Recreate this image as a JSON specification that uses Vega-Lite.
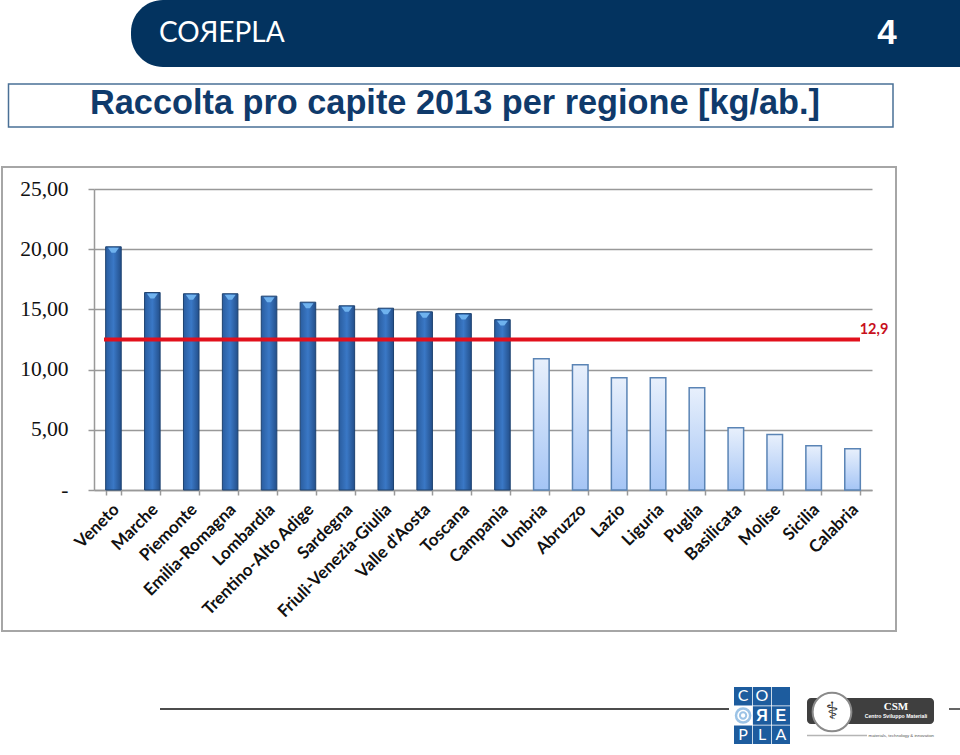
{"$schema":"https://vega.github.io/schema/vega-lite/v6.json","width":778,"height":301,"autosize":{"type":"none"},"padding":{"left":94,"top":189,"right":88,"bottom":265},"background":"white","config":{"view":{"stroke":null}},
"datasets":{"regioni":[{"regione":"Veneto","kg":20.2},{"regione":"Marche","kg":16.4},{"regione":"Piemonte","kg":16.3},{"regione":"Emilia-Romagna","kg":16.3},{"regione":"Lombardia","kg":16.1},{"regione":"Trentino-Alto Adige","kg":15.6},{"regione":"Sardegna","kg":15.3},{"regione":"Friuli-Venezia-Giulia","kg":15.1},{"regione":"Valle d'Aosta","kg":14.8},{"regione":"Toscana","kg":14.65},{"regione":"Campania","kg":14.15},{"regione":"Umbria","kg":10.9},{"regione":"Abruzzo","kg":10.4},{"regione":"Lazio","kg":9.33},{"regione":"Liguria","kg":9.33},{"regione":"Puglia","kg":8.5},{"regione":"Basilicata","kg":5.17},{"regione":"Molise","kg":4.6},{"regione":"Sicilia","kg":3.68},{"regione":"Calabria","kg":3.43}]},
"data":{"name":"regioni"},
"layer":[
{"encoding":{"x":{"field":"regione","type":"nominal","sort":null,"scale":{"paddingInner":0.6,"paddingOuter":0.3},"axis":{"title":null,"labelAngle":-45,"labelAlign":"right","labelBaseline":"top","labelFont":"Lato","labelFontWeight":"bold","labelFontSize":17,"labelColor":"#111111","labelPadding":6,"labelOffset":-3,"labelOverlap":false,"labelLimit":300,"tickBand":"extent","tickColor":"#999999","tickWidth":1.5,"tickSize":5,"domainColor":"#999999","domainWidth":1.5}},
"y":{"field":"kg","type":"quantitative","scale":{"domain":[0,25],"nice":false},"axis":{"title":null,"values":[0,5,10,15,20,25],"labelExpr":"datum.value==0?'-':replace(format(datum.value,'.2f'),'.',',')","labelFont":"Liberation Serif","labelFontSize":21.5,"labelColor":"#111111","labelPadding":20,"tickColor":"#999999","tickWidth":1.5,"tickSize":6,"domainColor":"#999999","domainWidth":1.5,"grid":true,"gridColor":"#999999","gridWidth":1.5}}},
"layer":[
{"transform":[{"filter":"datum.kg>12.5"}],"mark":{"type":"bar","stroke":"#1d4270","strokeWidth":1,"color":{"gradient":"linear","x1":0,"x2":1,"y1":0,"y2":0,"stops":[{"offset":0,"color":"#2a5d9f"},{"offset":0.5,"color":"#3a78c6"},{"offset":1,"color":"#234f8a"}]}}},
{"transform":[{"filter":"datum.kg>12.5"}],"mark":{"type":"point","filled":true,"opacity":1,"color":"#6fb2ee","stroke":null,"shape":"M-1,-0.45L1,-0.45L0.35,0.45L-0.35,0.45Z","size":121},"encoding":{"yOffset":{"value":3.5}}},
{"transform":[{"filter":"datum.kg<=12.5"}],"mark":{"type":"bar","stroke":"#5a84b5","strokeWidth":1.5,"color":{"gradient":"linear","x1":0,"x2":0,"y1":0,"y2":1,"stops":[{"offset":0,"color":"#e8f0fc"},{"offset":1,"color":"#a5c5f5"}]}}}
]},
{"data":{"values":[{"media":12.5,"etichetta":"12,9"}]},"layer":[
{"mark":{"type":"rule","color":"#e2101c","strokeWidth":4},"encoding":{"x":{"datum":104,"type":"quantitative","scale":{"domain":[0,960],"range":[-94,866],"nice":false,"zero":false},"axis":null},"x2":{"datum":860},"y":{"field":"media","type":"quantitative","scale":{"domain":[0,25],"nice":false},"axis":null}}},
{"mark":{"type":"text","font":"Lato","fontWeight":"bold","fontSize":14.5,"color":"#c8101c","align":"center","baseline":"middle"},"encoding":{"x":{"datum":874,"type":"quantitative","axis":null},"y":{"field":"media","type":"quantitative","axis":null},"yOffset":{"value":-9.5},"text":{"field":"etichetta"}}}
]},
{"data":{"values":[{}]},"layer":[
{"mark":{"type":"rect","color":"#03335f","cornerRadiusTopLeft":32,"cornerRadiusBottomLeft":32},"encoding":{"x":{"datum":131,"type":"quantitative","scale":{"domain":[0,960],"range":[-94,866],"nice":false,"zero":false,"clamp":false},"axis":null},"x2":{"datum":1010},"y":{"datum":0,"type":"quantitative","scale":{"domain":[0,755],"range":[-189,566],"nice":false,"zero":false},"axis":null},"y2":{"datum":67}}},
{"mark":{"type":"text","text":"COЯEPLA","font":"Lato","fontSize":28,"color":"white","align":"left","baseline":"middle"},"encoding":{"x":{"datum":159,"type":"quantitative","axis":null},"y":{"datum":34,"type":"quantitative","axis":null}}},
{"mark":{"type":"text","text":"4","font":"Liberation Sans","fontWeight":"bold","fontSize":35,"color":"white","align":"center","baseline":"middle"},"encoding":{"x":{"datum":887,"type":"quantitative","axis":null},"y":{"datum":33,"type":"quantitative","axis":null}}},
{"mark":{"type":"rect","fill":"white","stroke":"#4a7096","strokeWidth":1.5},"encoding":{"x":{"datum":8.5,"type":"quantitative","axis":null},"x2":{"datum":893},"y":{"datum":84,"type":"quantitative","axis":null},"y2":{"datum":127}}},
{"mark":{"type":"text","text":"Raccolta pro capite 2013 per regione [kg/ab.]","font":"Liberation Sans","fontWeight":"bold","fontSize":34.3,"color":"#0f3a6b","align":"center","baseline":"middle"},"encoding":{"x":{"datum":455,"type":"quantitative","axis":null},"y":{"datum":104,"type":"quantitative","axis":null}}},
{"mark":{"type":"rect","fill":null,"stroke":"#a6a6a6","strokeWidth":2},"encoding":{"x":{"datum":2,"type":"quantitative","axis":null},"x2":{"datum":896},"y":{"datum":167,"type":"quantitative","axis":null},"y2":{"datum":631}}},
{"mark":{"type":"rule","color":"#111111","strokeWidth":1.3},"encoding":{"x":{"datum":160,"type":"quantitative","axis":null},"x2":{"datum":729},"y":{"datum":709,"type":"quantitative","axis":null}}},
{"mark":{"type":"rule","color":"#111111","strokeWidth":1.3},"encoding":{"x":{"datum":949,"type":"quantitative","axis":null},"x2":{"datum":960},"y":{"datum":709,"type":"quantitative","axis":null}}},
{"mark":{"type":"rect","color":"#3f3f3f","cornerRadius":4},"encoding":{"x":{"datum":807,"type":"quantitative","axis":null},"x2":{"datum":934},"y":{"datum":698,"type":"quantitative","axis":null},"y2":{"datum":724}}},
{"mark":{"type":"point","filled":true,"shape":"circle","color":"white","stroke":"#8a8a8a","strokeWidth":2,"opacity":1,"size":1500},"encoding":{"x":{"datum":832,"type":"quantitative","axis":null},"y":{"datum":712,"type":"quantitative","axis":null}}},
{"mark":{"type":"text","text":"⚕","font":"DejaVu Sans","fontSize":24,"color":"#333333","align":"center","baseline":"middle"},"encoding":{"x":{"datum":832,"type":"quantitative","axis":null},"y":{"datum":712,"type":"quantitative","axis":null}}},
{"mark":{"type":"text","text":"CSM","font":"Liberation Serif","fontWeight":"bold","fontSize":11,"color":"white","align":"center","baseline":"middle"},"encoding":{"x":{"datum":896,"type":"quantitative","axis":null},"y":{"datum":707,"type":"quantitative","axis":null}}},
{"mark":{"type":"text","text":"Centro Sviluppo Materiali","font":"Liberation Sans","fontWeight":"bold","fontSize":5.2,"color":"white","align":"center","baseline":"middle"},"encoding":{"x":{"datum":896,"type":"quantitative","axis":null},"y":{"datum":716,"type":"quantitative","axis":null}}},
{"mark":{"type":"rule","color":"#b5b5b5","strokeWidth":1.5},"encoding":{"x":{"datum":807,"type":"quantitative","axis":null},"x2":{"datum":867},"y":{"datum":735.5,"type":"quantitative","axis":null}}},
{"mark":{"type":"text","text":"materials, technology & innovation","font":"Liberation Sans","fontSize":4.3,"color":"#555555","align":"right","baseline":"middle"},"encoding":{"x":{"datum":934,"type":"quantitative","axis":null},"y":{"datum":735.5,"type":"quantitative","axis":null}}}
]},
{"data":{"values":[{"c":"a","r":"1","t":"C"},{"c":"b","r":"1","t":"O"},{"c":"c","r":"1","t":""},{"c":"a","r":"2","t":""},{"c":"b","r":"2","t":"Я"},{"c":"c","r":"2","t":"E"},{"c":"a","r":"3","t":"P"},{"c":"b","r":"3","t":"L"},{"c":"c","r":"3","t":"A"}]},
"encoding":{"x":{"field":"c","type":"nominal","scale":{"range":[640,696],"paddingInner":0.04,"paddingOuter":0},"axis":null},"y":{"field":"r","type":"nominal","scale":{"range":[498,555],"paddingInner":0.04,"paddingOuter":0},"axis":null}},
"layer":[
{"transform":[{"filter":"datum.c!='a'||datum.r!='2'"}],"mark":{"type":"rect","color":"#1d5c9e"}},
{"transform":[{"filter":"datum.c=='a'&&datum.r=='2'"}],"mark":{"type":"point","filled":false,"shape":"circle","color":"#9cc3e6","strokeWidth":2.5,"opacity":1,"size":200}},
{"transform":[{"filter":"datum.c=='a'&&datum.r=='2'"}],"mark":{"type":"point","filled":false,"shape":"circle","color":"#9cc3e6","strokeWidth":2,"opacity":1,"size":40}},
{"transform":[{"filter":"datum.r!='2'"}],"mark":{"type":"text","font":"Lato","fontSize":16,"color":"white","align":"center","baseline":"middle"},"encoding":{"text":{"field":"t"}}},
{"transform":[{"filter":"datum.r=='2'"}],"mark":{"type":"text","font":"Liberation Sans","fontWeight":"bold","fontSize":16,"color":"white","align":"center","baseline":"middle"},"encoding":{"text":{"field":"t"}}}
]}
],
"resolve":{"scale":{"x":"independent","y":"independent"}}}
